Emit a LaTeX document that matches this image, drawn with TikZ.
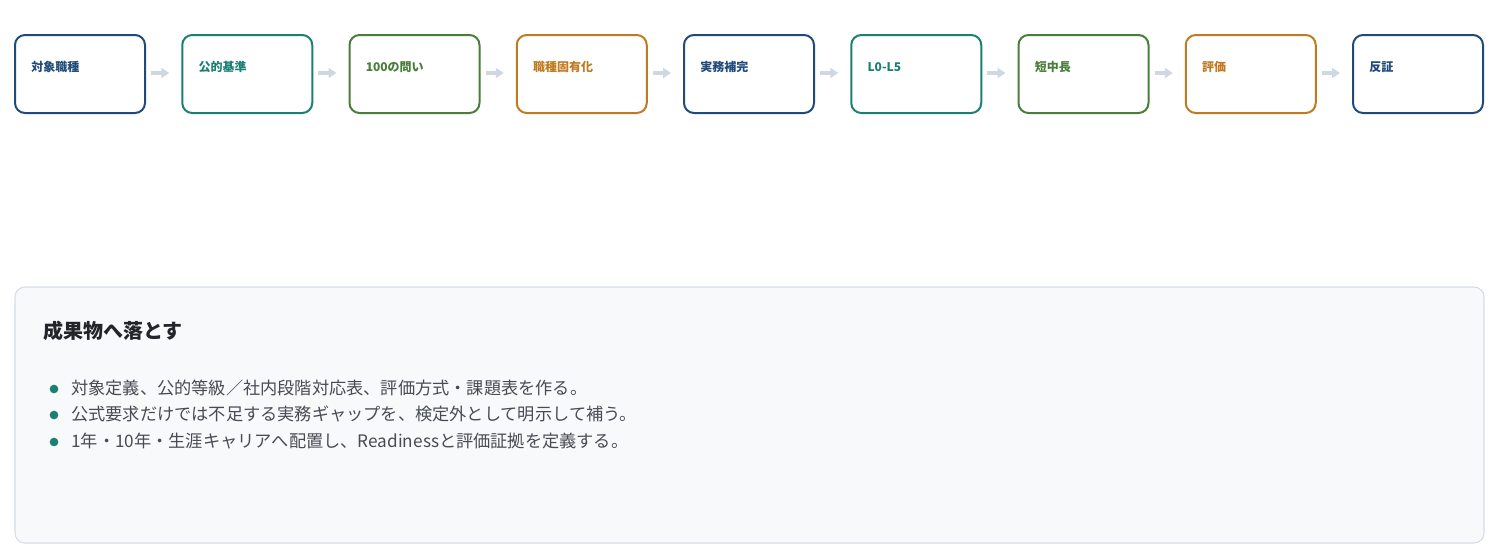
\documentclass[tikz,border=0pt]{standalone}
\usepackage{fontspec}
\setmainfont{Noto Sans CJK JP}
\usepackage{tikz}
\usetikzlibrary{arrows.meta,positioning}
\usepackage{xcolor}
\definecolor{navy}{HTML}{1F4A7A}
\definecolor{teal}{HTML}{1B7F73}
\definecolor{grn}{HTML}{4A7D3C}
\definecolor{orng}{HTML}{C07A22}
\definecolor{arrowgray}{HTML}{CFD7E3}
\definecolor{panelfill}{HTML}{F8F9FB}
\definecolor{paneldraw}{HTML}{D5DCE6}
\definecolor{bodytext}{HTML}{474C54}
\definecolor{titletext}{HTML}{22262B}

\begin{document}
\begin{tikzpicture}[x=0.75pt,y=-0.75pt,
	stepbox/.style={draw=#1,line width=1.5pt,rounded corners=7.5pt,fill=white,
		minimum width=97.5pt,minimum height=58.5pt,inner sep=0pt},
	steplabel/.style={text=#1,font=\fontsize{9}{10}\selectfont\bfseries,anchor=west,inner sep=0pt},
	flow/.style={arrowgray,line width=2.6pt,-{Triangle[length=6pt,width=7.5pt]}},
	bullet/.style={circle,fill=teal,minimum size=6.5pt,inner sep=0pt},
	itemtext/.style={text=bodytext,font=\fontsize{12.9}{15}\selectfont,anchor=west,inner sep=0pt}]
		\useasboundingbox (0,0) rectangle (1500,544);
		\def\pitch{167.25}
		\def\boxy{74}
		% steps
		\foreach \i/\t/\c in {1/対象職種/navy,2/公的基準/teal,3/100の問い/grn,4/職種固有化/orng,
			5/実務補完/navy,6/L0-L5/teal,7/短中長/grn,8/評価/orng,9/反証/navy}{
			\node[stepbox=\c] (s\i) at ({80+(\i-1)*\pitch},\boxy) {};
			\node[steplabel=\c] (t\i) at ([xshift=12.75pt]s\i.north west) [yshift=-24.75pt] {\t};
		}
		\foreach \i [evaluate=\i as \j using int(\i+1)] in {1,...,8}{
			\draw[flow] ([xshift=3.75pt,yshift=0.75pt]s\i.east) -- ([xshift=-9pt,yshift=0.75pt]s\j.west);
		}
		% panel
		\node[draw=paneldraw,fill=panelfill,line width=0.8pt,rounded corners=7.5pt,
			minimum width=1101.75pt,minimum height=192pt,inner sep=0pt] (panel) at (749.5,415) {};
		\node[text=titletext,font=\fontsize{15}{17}\selectfont\bfseries,anchor=west,inner sep=0pt]
			(title) at (43,331) {成果物へ落とす};
		\node[bullet] (b1) at (54,389) {};
		\node[bullet] (b2) at (54,415) {};
		\node[bullet] (b3) at (54,442) {};
		\node[itemtext] (i1) at (71,388) {対象定義、公的等級／社内段階対応表、評価方式・課題表を作る。};
		\node[itemtext] (i2) at (71,414) {公式要求だけでは不足する実務ギャップを、検定外として明示して補う。};
		\node[itemtext] (i3) at (71,441) {1年・10年・生涯キャリアへ配置し、Readinessと評価証拠を定義する。};
\end{tikzpicture}
\end{document}
